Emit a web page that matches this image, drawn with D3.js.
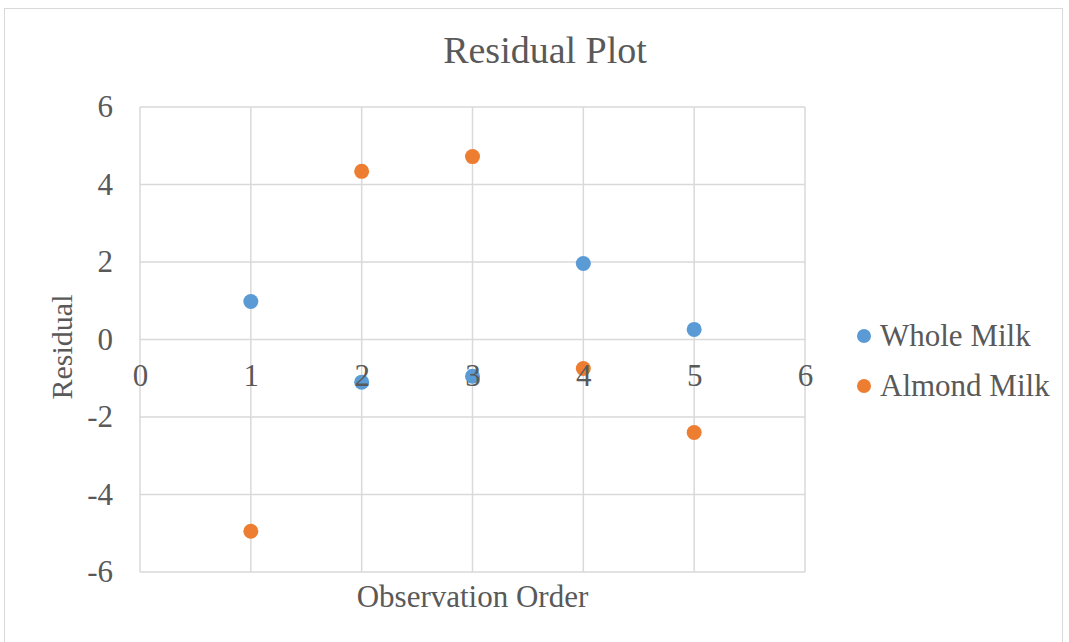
<!DOCTYPE html>
<html>
<head>
<meta charset="utf-8">
<script src="https://cdn.jsdelivr.net/npm/d3@7"></script>
<style>
  body { margin: 0; background: #fff; }
  text { font-family: 'Liberation Serif', 'Times New Roman', serif; fill: #595959; }
</style>
</head>
<body>
<script>
// residuals by observation order
const observations = [1, 2, 3, 4, 5];
const wholeMilk = [0.98, -1.1, -0.95, 1.96, 0.26];
const almondMilk = [-4.95, 4.34, 4.72, -0.75, -2.4];
const xTicks = [0, 1, 2, 3, 4, 5, 6];
const yTicks = [-6, -4, -2, 0, 2, 4, 6];
const seriesNames = ['Whole Milk', 'Almond Milk'];
const colors = ['#5B9BD5', '#ED7D31'];

const W = 1069;
const H = 642;
const plot = {
  left: 140, right: 805, top: 107, bottom: 572,
};

const svg = d3.select('body')
  .append('svg')
  .attr('width', W)
  .attr('height', H);

// chart frame
svg.append('rect')
  .attr('x', 4.5)
  .attr('y', 8.5)
  .attr('width', 1058)
  .attr('height', 660)
  .attr('fill', 'none')
  .attr('stroke', '#d9d9d9');

const x = d3.scaleLinear()
  .domain([0, 6])
  .range([plot.left, plot.right]);

const y = d3.scaleLinear()
  .domain([-6, 6])
  .range([plot.bottom, plot.top]);

const grid = svg.append('g').attr('class', 'grid');

grid.selectAll('.vline')
  .data(xTicks)
  .enter().append('line')
  .attr('x1', (d) => x(d))
  .attr('x2', (d) => x(d))
  .attr('y1', plot.top)
  .attr('y2', plot.bottom)
  .attr('stroke', '#d9d9d9')
  .attr('stroke-width', 1.5);

grid.selectAll('.hline')
  .data(yTicks)
  .enter().append('line')
  .attr('x1', plot.left)
  .attr('x2', plot.right)
  .attr('y1', (d) => y(d))
  .attr('y2', (d) => y(d))
  .attr('stroke', '#d9d9d9')
  .attr('stroke-width', 1.5);

const series = [wholeMilk, almondMilk];

series.forEach((vals, si) => {
  svg.append('g')
    .selectAll('circle')
    .data(vals)
    .enter().append('circle')
    .attr('cx', (d, i) => x(observations[i]))
    .attr('cy', (d) => y(d))
    .attr('r', 7.5)
    .attr('fill', colors[si]);
});

const plain = (d) => String(d);

// y axis labels
const yAxis = d3.axisLeft(y)
  .tickValues(yTicks)
  .tickFormat(plain)
  .tickSize(0)
  .tickPadding(27);

svg.append('g')
  .attr('transform', `translate(${plot.left},0)`)
  .call(yAxis)
  .call((g) => g.select('.domain').remove())
  .call((g) => g.selectAll('text')
    .style('font-family', "'Liberation Serif', serif")
    .style('font-size', '31px')
    .attr('fill', '#595959'));

// x axis sits on y = 0, labels drawn over the markers
const xAxis = d3.axisBottom(x)
  .tickValues(xTicks)
  .tickFormat(plain)
  .tickSize(0)
  .tickPadding(24);

svg.append('g')
  .attr('transform', `translate(0,${y(0)})`)
  .call(xAxis)
  .call((g) => g.select('.domain').remove())
  .call((g) => g.selectAll('text')
    .style('font-family', "'Liberation Serif', serif")
    .style('font-size', '31px')
    .attr('fill', '#595959'));

svg.append('text')
  .attr('x', 545)
  .attr('y', 63)
  .attr('text-anchor', 'middle')
  .style('font-size', '38px')
  .text('Residual Plot');

svg.append('text')
  .attr('x', x(3))
  .attr('y', 607)
  .attr('text-anchor', 'middle')
  .style('font-size', '31px')
  .text('Observation Order');

svg.append('text')
  .attr('transform', 'translate(72,347) rotate(-90)')
  .attr('text-anchor', 'middle')
  .style('font-size', '30px')
  .text('Residual');

const legend = svg.selectAll('.legend')
  .data(seriesNames)
  .enter().append('g')
  .attr('class', 'legend')
  .attr('transform', (d, i) => `translate(864,${336 + i * 50})`);

legend.append('circle')
  .attr('r', 7)
  .attr('fill', (d, i) => colors[i]);

legend.append('text')
  .attr('x', 16)
  .attr('y', 10)
  .style('font-size', '31px')
  .text((d) => d);
</script>
</body>
</html>
